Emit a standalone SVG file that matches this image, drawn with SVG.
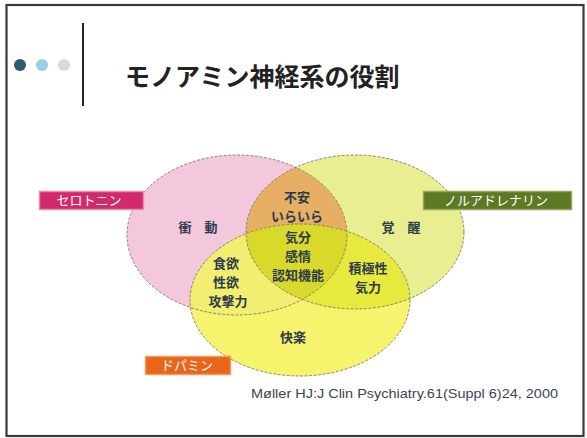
<svg xmlns="http://www.w3.org/2000/svg" width="587" height="438" viewBox="0 0 587 438">
<defs>
<style>
.jp{font-family:"Noto Sans CJK JP","Noto Sans",sans-serif;font-weight:bold}
.vt{font-size:13px;fill:#2e3b4d;text-anchor:middle}
.lb{font-size:13px;fill:#ffffff;text-anchor:middle;font-weight:normal}
.ol{fill:none;stroke:#7a7a6a;stroke-width:0.9;stroke-dasharray:3 1.5}
</style>
<clipPath id="cPink"><ellipse cx="237" cy="235" rx="110" ry="80"/></clipPath>
<clipPath id="cGreen"><ellipse cx="355" cy="232" rx="109" ry="77"/></clipPath>
</defs>
<rect x="0" y="0" width="587" height="438" fill="#ffffff"/>
<rect x="6.5" y="5" width="577" height="431" fill="none" stroke="#3a3a3a" stroke-width="2.2"/>
<g id="header">
<circle cx="20" cy="65" r="6" fill="#2b5b71"/>
<circle cx="42" cy="65" r="6" fill="#9dcde0"/>
<circle cx="64" cy="65" r="6" fill="#d9d9d9"/>
<line x1="83" y1="23" x2="83" y2="106" stroke="#222" stroke-width="2"/>
<text x="125" y="86" class="jp" font-size="25" fill="#222">モノアミン神経系の役割</text>
</g>
<g id="venn-fills">
<ellipse cx="237" cy="235" rx="110" ry="80" fill="#f3c8dc"/>
<ellipse cx="355" cy="232" rx="109" ry="77" fill="#e9ef90"/>
<ellipse cx="237" cy="235" rx="110" ry="80" fill="#e6af64" clip-path="url(#cGreen)"/>
<ellipse cx="300" cy="300" rx="110" ry="76" fill="#f6f46c"/>
<ellipse cx="300" cy="300" rx="110" ry="76" fill="#f1ee72" clip-path="url(#cPink)"/>
<ellipse cx="300" cy="300" rx="110" ry="76" fill="#e8e93e" clip-path="url(#cGreen)"/>
<g clip-path="url(#cPink)"><ellipse cx="300" cy="300" rx="110" ry="76" fill="#d9d92c" clip-path="url(#cGreen)"/></g>
</g>
<g id="serotonin">
<ellipse class="ol" cx="237" cy="235" rx="110" ry="80"/>
<rect x="39.5" y="191.5" width="104" height="18" fill="#d2296b" stroke="#e98aae" stroke-width="1.5"/>
<text x="89" y="205" class="jp lb">セロトニン</text>
</g>
<g id="noradrenaline">
<ellipse class="ol" cx="355" cy="232" rx="109" ry="77"/>
<rect x="423.5" y="191.5" width="148" height="18" fill="#5d7923" stroke="#95a857" stroke-width="1.5"/>
<text x="496" y="205" class="jp lb">ノルアドレナリン</text>
</g>
<g id="dopamine">
<ellipse class="ol" cx="300" cy="300" rx="110" ry="76"/>
<rect x="145.5" y="356.5" width="85" height="18" fill="#e8651b" stroke="#f39a5e" stroke-width="1.5"/>
<text x="187" y="370" class="jp lb">ドパミン</text>
</g>
<g id="labels">
<text x="198" y="232" class="jp vt">衝　動</text>
<text x="401" y="232" class="jp vt">覚　醒</text>
<text class="jp vt"><tspan x="297" y="202">不安</tspan><tspan x="297" y="221">いらいら</tspan></text>
<text class="jp vt"><tspan x="298" y="242">気分</tspan><tspan x="298" y="261">感情</tspan><tspan x="298" y="280">認知機能</tspan></text>
<text class="jp vt"><tspan x="226" y="268">食欲</tspan><tspan x="226" y="287">性欲</tspan><tspan x="228" y="306">攻撃力</tspan></text>
<text class="jp vt"><tspan x="368" y="273">積極性</tspan><tspan x="368" y="292">気力</tspan></text>
<text x="293" y="342" class="jp vt">快楽</text>
</g>
<text x="251" y="398" font-family="Liberation Sans, Arial, sans-serif" font-size="13.5" fill="#3a4552" textLength="307" lengthAdjust="spacingAndGlyphs">Møller HJ:J Clin Psychiatry.61(Suppl 6)24, 2000</text>
</svg>
